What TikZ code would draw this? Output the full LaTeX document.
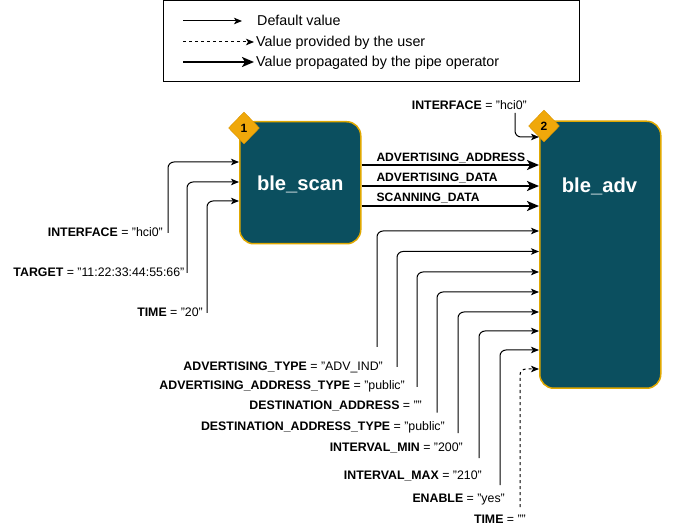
\documentclass[tikz,border=0pt]{standalone}
\usepackage{fontspec}
\setmainfont{Liberation Sans}
\usetikzlibrary{arrows.meta,shapes.geometric}
\definecolor{boxteal}{HTML}{0B4F5F}
\definecolor{boxgold}{HTML}{E0A800}
\definecolor{badgeorange}{HTML}{F0A80A}
\definecolor{badgeline}{HTML}{D99400}
\begin{document}
\begin{tikzpicture}[x=1pt,y=-1pt,
  lbl/.style={font=\fontsize{12.35}{14}\selectfont, inner sep=0pt, text height=9.5pt, text depth=1pt, anchor=east},
  clbl/.style={font=\bfseries\fontsize{12.1}{14}\selectfont, inner sep=0pt, text height=9.5pt, text depth=1pt, anchor=west},
  leg/.style={font=\fontsize{14.3}{16}\selectfont, inner sep=0pt, text height=10.5pt, text depth=1pt, anchor=west},
  box/.style={draw=boxgold, line width=1.5pt, fill=boxteal, rounded corners=14pt, anchor=north west, inner sep=0pt},
  boxtext/.style={text=white, font=\bfseries\fontsize{20.2}{22}\selectfont, text depth=0pt},
  badge/.style={diamond, fill=badgeorange, draw=badgeline, line width=0.4pt, minimum width=31pt, minimum height=32pt, inner sep=0pt, font=\bfseries\fontsize{12}{14}\selectfont},
  arr/.style={line width=1pt, -{Stealth[length=8pt,width=6.5pt,inset=2pt]}, rounded corners=6pt},
  parr/.style={line width=2pt, -{Stealth[length=12pt,width=10pt,inset=3pt]}},
  darr/.style={arr, dash pattern=on 3pt off 3pt},
]
\useasboundingbox (0,0) rectangle (675,529);

% legend
\node[draw, line width=1pt, minimum width=416pt, minimum height=80.5pt, anchor=north west, inner sep=0pt] (legend) at (163,0.5) {};
\node[leg] (lt1) at (257,21) {Default value};
\node[leg] (lt2) at (256,42) {Value provided by the user};
\node[leg] (lt3) at (256,62) {Value propagated by the pipe operator};
\coordinate (ls1) at (183,21);
\coordinate (ls2) at (183,42);
\coordinate (ls3) at (183,62);
\draw[arr] (ls1) -- ([xshift=-15pt]lt1.west);
\draw[darr] (ls2) -- ([xshift=-2pt]lt2.west);
\draw[parr] (ls3) -- ([xshift=-2pt]lt3.west);

% blocks
\node[box, boxtext, minimum width=121pt, minimum height=122pt] (scan) at (239,121) {ble\_scan};
\node[box, minimum width=121pt, minimum height=267pt] (adv) at (539,120.5) {};
\node[boxtext] (advt) at (599.5,185) {ble\_adv};
\node[badge] (b1) at (244,128) {1};
\node[badge] (b2) at (544,126) {2};

% inputs of ble_scan
\node[lbl] (si1) at (163,232) {\textbf{INTERFACE} = "hci0"};
\node[lbl] (si2) at (184.5,272) {\textbf{TARGET} = "11:22:33:44:55:66"};
\node[lbl] (si3) at (203,312) {\textbf{TIME} = "20"};
\draw[arr] ([xshift=5pt,yshift=-1pt]si1.east) |- (scan.west |- 0,162);
\draw[arr] ([xshift=2.5pt,yshift=-1pt]si2.east) |- (scan.west |- 0,182);
\draw[arr] ([xshift=4pt,yshift=-1pt]si3.east) |- (scan.west |- 0,201);

% pipe
\draw[parr] (scan.east |- 0,165) -- (adv.west |- 0,165) node[clbl, pos=0, xshift=14pt, yshift=8pt] {ADVERTISING\_ADDRESS};
\draw[parr] (scan.east |- 0,186) -- (adv.west |- 0,186) node[clbl, pos=0, xshift=14pt, yshift=9pt] {ADVERTISING\_DATA};
\draw[parr] (scan.east |- 0,206) -- (adv.west |- 0,206) node[clbl, pos=0, xshift=14pt, yshift=9pt] {SCANNING\_DATA};

% inputs of ble_adv
\node[lbl] (ai0) at (527,105) {\textbf{INTERFACE} = "hci0"};
\draw[arr] ([xshift=-12pt,yshift=-8pt]ai0.east) |- (adv.west |- 0,137);

\node[lbl] (ai1) at (383,366) {\textbf{ADVERTISING\_TYPE} = "ADV\_IND"};
\node[lbl] (ai2) at (405,385.5) {\textbf{ADVERTISING\_ADDRESS\_TYPE} = "public"};
\node[lbl] (ai3) at (422,405.5) {\textbf{DESTINATION\_ADDRESS} = ""};
\node[lbl] (ai4) at (445,426.5) {\textbf{DESTINATION\_ADDRESS\_TYPE} = "public"};
\node[lbl] (ai5) at (463,447) {\textbf{INTERVAL\_MIN} = "200"};
\node[lbl] (ai6) at (482,475) {\textbf{INTERVAL\_MAX} = "210"};
\node[lbl] (ai7) at (505,498) {\textbf{ENABLE} = "yes"};
\node[lbl] (ai8) at (526,519) {\textbf{TIME} = ""};

\draw[arr] ([shift={(-6,-19)}]ai1.east) |- (adv.west |- 0,231);
\draw[arr] ([shift={(-8,-18.5)}]ai2.east) |- (adv.west |- 0,251.5);
\draw[arr] ([shift={(-5,-18.5)}]ai3.east) |- (adv.west |- 0,272);
\draw[arr] ([shift={(-8,-14)}]ai4.east) |- (adv.west |- 0,292);
\draw[arr] ([shift={(-5,-14)}]ai5.east) |- (adv.west |- 0,312);
\draw[arr] ([shift={(-3,-17)}]ai6.east) |- (adv.west |- 0,331);
\draw[arr] ([shift={(-5,-13)}]ai7.east) |- (adv.west |- 0,350);
\draw[darr] ([shift={(-6,-12)}]ai8.east) |- (adv.west |- 0,369);
\end{tikzpicture}
\end{document}
